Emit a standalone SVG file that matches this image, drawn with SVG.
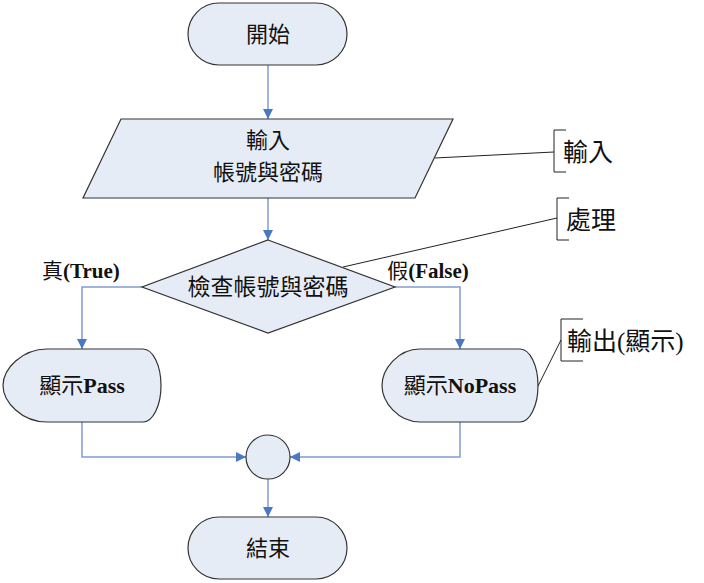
<svg xmlns="http://www.w3.org/2000/svg" width="704" height="583" viewBox="0 0 704 583">
<defs>
<marker id="arr" viewBox="0 0 10 10" refX="10" refY="5" markerWidth="10" markerHeight="10" markerUnits="userSpaceOnUse" orient="auto">
<path d="M0,0 L10,5 L0,10 Z" fill="#4A78C2"/>
</marker>
<style>
.shape{fill:#E6ECF6;stroke:#333;stroke-width:1.2}
.conn{fill:none;stroke:#7F9FD3;stroke-width:1.5;marker-end:url(#arr)}
.note{fill:none;stroke:#222;stroke-width:1}
.t{font-family:"Liberation Serif","Noto Sans CJK TC",serif;font-size:22px;fill:#111;text-anchor:middle}
.b{font-weight:bold}
.n{font-family:"Liberation Serif","Noto Sans CJK TC",serif;font-size:25px;fill:#111}
</style>
</defs>
<rect width="704" height="583" fill="#fff"/>
<g id="connectors">
<path class="conn" d="M268,65 V119"/>
<path class="conn" d="M268,198 V240"/>
<path class="conn" d="M142,287 H82 V349"/>
<path class="conn" d="M395,287 H460 V349"/>
<path class="conn" d="M82,422 V457 H246"/>
<path class="conn" d="M460,422 V457 H290"/>
<path class="conn" d="M268,479 V517"/>
</g>
<g id="start">
<rect class="shape" x="188" y="3" width="159" height="62" rx="31"/>
<text class="t" x="268" y="42">開始</text>
</g>
<g id="input">
<polygon class="shape" points="121,119 453,119 415,198 83,198"/>
<text class="t" x="268" y="148">輸入</text>
<text class="t" x="268" y="180">帳號與密碼</text>
</g>
<g id="decision">
<polygon class="shape" points="268,240 395,287 268,333 142,287"/>
<text class="t" x="268" y="295" style="font-size:23px">檢查帳號與密碼</text>
</g>
<g id="label-true">
<text class="t" x="81" y="278" style="font-size:21px">真<tspan class="b">(True)</tspan></text>
</g>
<g id="label-false">
<text class="t" x="428" y="278" style="font-size:21px">假<tspan class="b">(False)</tspan></text>
</g>
<g id="pass">
<path class="shape" d="M47,349 H143 A18,36.5 0 0 1 143,422 H47 C22,422 3,402 3,385.5 C3,369 22,349 47,349 Z"/>
<text class="t" x="82" y="393">顯示<tspan class="b">Pass</tspan></text>
</g>
<g id="nopass">
<path class="shape" d="M420,349 H520 A18,36.5 0 0 1 520,422 H420 C398,422 382,402 382,385.5 C382,369 398,349 420,349 Z"/>
<text class="t" x="460" y="393">顯示<tspan class="b">NoPass</tspan></text>
</g>
<g id="merge">
<circle class="shape" cx="268" cy="457" r="22"/>
</g>
<g id="end">
<rect class="shape" x="188" y="517" width="159" height="62" rx="31"/>
<text class="t" x="268" y="556">結束</text>
</g>
<g id="note-input">
<path class="note" d="M435,158 L554,152"/>
<path class="note" d="M566,130 H554 V172 H566"/>
<text class="n" x="563" y="161">輸入</text>
</g>
<g id="note-process">
<path class="note" d="M343,267 L557,218"/>
<path class="note" d="M569,198 H557 V240 H569"/>
<text class="n" x="566" y="229">處理</text>
</g>
<g id="note-output">
<path class="note" d="M538,386 L561,340"/>
<path class="note" d="M583,319 H561 V361 H583"/>
<text class="n" x="567" y="350">輸出(顯示)</text>
</g>
</svg>
